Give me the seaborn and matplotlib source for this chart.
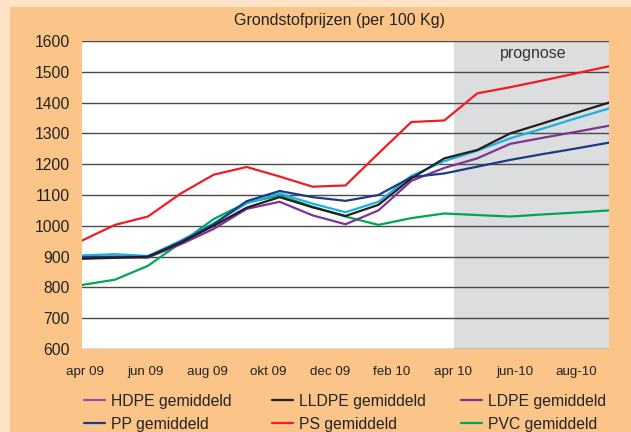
import numpy as np
import pandas as pd
import matplotlib
matplotlib.use("Agg")
import matplotlib.pyplot as plt
import seaborn as sns
from matplotlib.lines import Line2D
from matplotlib.patches import Rectangle

# ---- data (monthly, apr 09 .. aug 10) ----
months = list(range(17))
pvc   = [808, 825, 870, 945, 1022, 1075, 1098, 1062, 1030, 1003, 1025, 1040, 1035, 1030, 1037, 1043, 1050]
ps    = [952, 1003, 1030, 1105, 1166, 1191, 1160, 1127, 1131, 1235, 1337, 1342, 1430, 1450, 1472, 1495, 1518]
ldpe  = [895, 897, 897, 940, 990, 1055, 1078, 1034, 1005, 1050, 1146, 1188, 1219, 1266, 1286, 1305, 1325]
hdpe  = [904, 908, 902, 952, 1008, 1073, 1105, 1072, 1044, 1078, 1162, 1210, 1244, 1284, 1316, 1349, 1381]
pp    = [898, 900, 898, 948, 1005, 1080, 1113, 1093, 1081, 1100, 1158, 1170, 1192, 1214, 1233, 1251, 1270]
lldpe = [893, 896, 900, 945, 1000, 1059, 1093, 1060, 1032, 1068, 1154, 1219, 1246, 1300, 1333, 1367, 1400]

series_names = ["PVC gemiddeld", "PS gemiddeld", "LDPE gemiddeld",
                "HDPE gemiddeld", "PP gemiddeld", "LLDPE gemiddeld"]
series_vals = [pvc, ps, ldpe, hdpe, pp, lldpe]

tick_labels = ["apr 09", "jun 09", "aug 09", "okt 09", "dec 09",
               "feb 10", "apr 10", "jun-10", "aug-10"]
tick_pos = [0.08, 1.94, 3.81, 5.66, 7.53, 9.40, 11.26, 13.14, 14.99]
forecast_start = 11.3

colors = {
    "PVC gemiddeld": "#00A651",
    "PS gemiddeld": "#EE1C25",
    "LDPE gemiddeld": "#7E3495",
    "HDPE gemiddeld": "#1BB1E7",
    "PP gemiddeld": "#1D3A87",
    "LLDPE gemiddeld": "#231F20",
}
legend_colors = dict(colors)
legend_colors["HDPE gemiddeld"] = "#9B4FA6"

df = pd.DataFrame({
    "month": np.tile(months, len(series_names)),
    "value": np.concatenate(series_vals),
    "series": np.repeat(series_names, len(months)),
})

sns.set_theme(style="white")
plt.rcParams["font.family"] = ["Liberation Sans", "DejaVu Sans"]

ORANGE = "#FBC58A"
LIGHT = "#FEE3C7"
W, H = 631, 432

fig = plt.figure(figsize=(6.31, 4.32), dpi=100)
fig.patch.set_facecolor(ORANGE)
fig.add_artist(Rectangle((0, 0), 10 / W, 1, transform=fig.transFigure,
                         facecolor=LIGHT, edgecolor="none", zorder=0))
fig.add_artist(Rectangle((0, 1 - 7 / H), 1, 7 / H, transform=fig.transFigure,
                         facecolor=LIGHT, edgecolor="none", zorder=0))

ax = fig.add_axes([82 / W, 1 - 349 / H, (609 - 82) / W, (349 - 41) / H])
ax.set_facecolor("white")
ax.axvspan(forecast_start, 16, color="#DCDDDF", zorder=0, lw=0)

for v in range(600, 1601, 100):
    ax.axhline(v, color="#4a4a4a", lw=1.0, zorder=1)

sns.lineplot(data=df, x="month", y="value", hue="series", hue_order=series_names,
             palette=colors, lw=1.6, legend=False, ax=ax, zorder=3)

ax.set_xlim(0, 16)
ax.set_ylim(600, 1600)
ax.set_yticks(range(600, 1601, 100))
ax.set_xticks(tick_pos)
ax.set_xticklabels(tick_labels)
ax.tick_params(axis="y", length=0, pad=8.6, labelsize=11.3, labelcolor="#222222")
ax.tick_params(axis="x", length=0, pad=12, labelsize=9.6, labelcolor="#222222")
ax.set_xlabel("")
ax.set_ylabel("")
for s in ax.spines.values():
    s.set_visible(False)

ax.text(13.69, 1558, "prognose", ha="center", va="center", fontsize=11.5, color="#333333")

fig.text(340 / W, 1 - 21 / H, "Grondstofprijzen (per 100 Kg)", ha="center",
         va="center", fontsize=11.5, color="#222222")

# legend, laid out as in the reference (3 columns x 2 rows)
rows = [["HDPE gemiddeld", "LLDPE gemiddeld", "LDPE gemiddeld"],
        ["PP gemiddeld", "PS gemiddeld", "PVC gemiddeld"]]
col_x = [84, 272, 461]
row_y = [400, 422.5]
for r, names in enumerate(rows):
    for c, name in enumerate(names):
        y = 1 - row_y[r] / H
        fig.add_artist(Line2D([col_x[c] / W, (col_x[c] + 21) / W], [y, y],
                              transform=fig.transFigure, color=legend_colors[name], lw=1.6))
        fig.text((col_x[c] + 27) / W, y, name, ha="left", va="center_baseline",
                 fontsize=11.3, color="#222222")

fig.savefig("out.png", dpi=100, facecolor=fig.get_facecolor())
